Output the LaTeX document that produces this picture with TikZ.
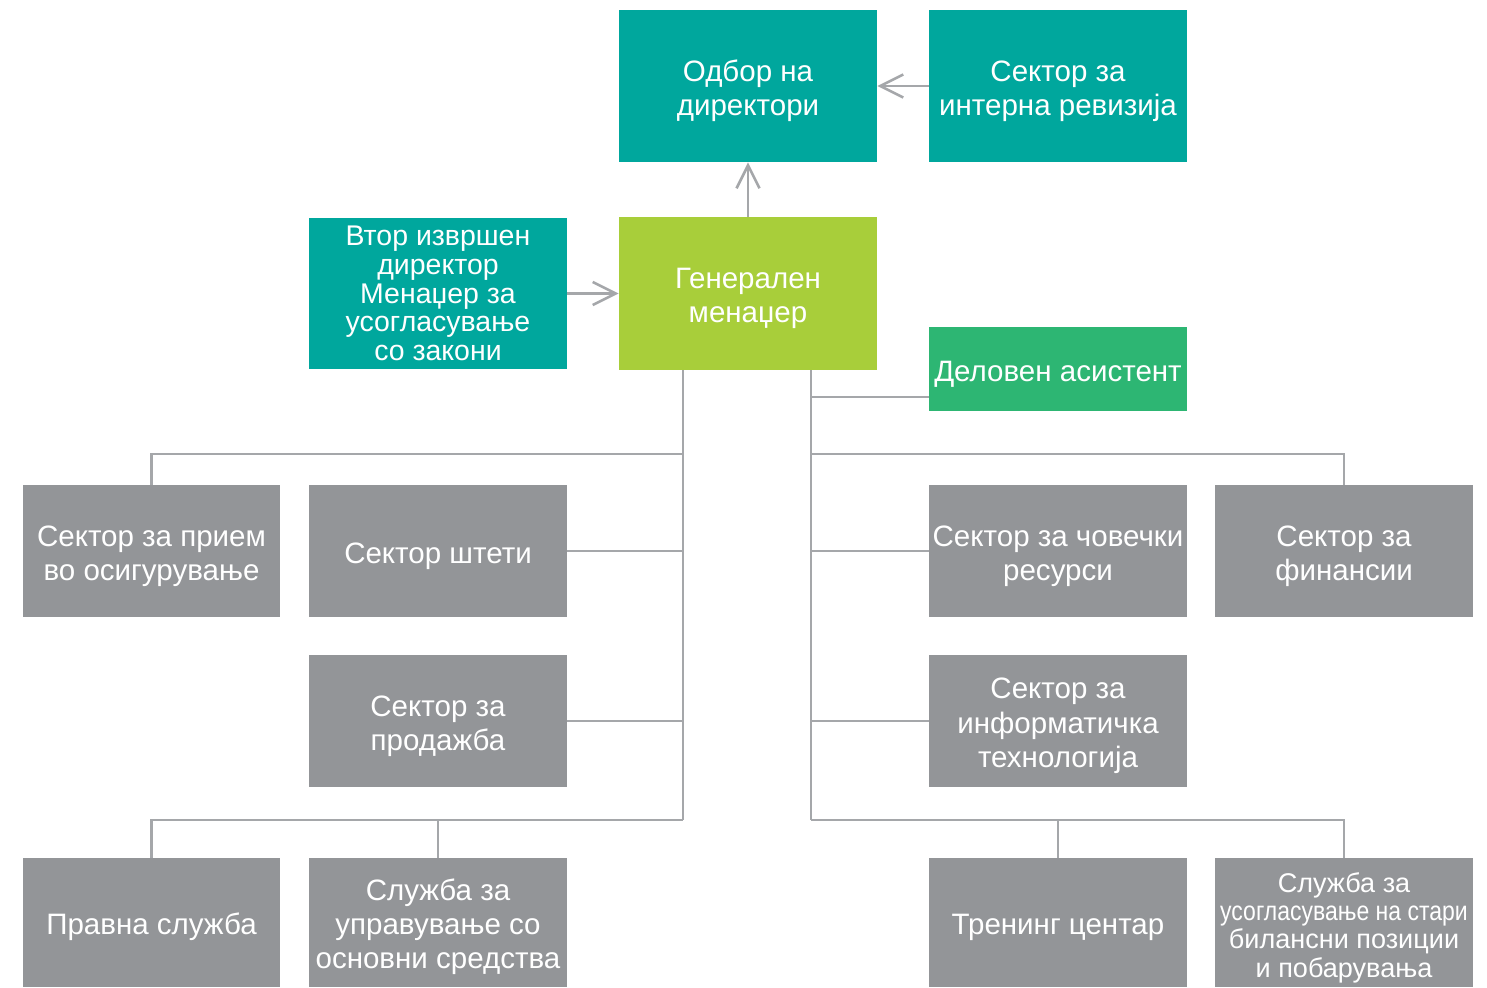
\documentclass[tikz,border=0pt]{standalone}
\usepackage{fontspec}
\setmainfont{Liberation Sans}
\usepackage{graphicx}
\usetikzlibrary{positioning,arrows.meta,calc}
\definecolor{unitteal}{HTML}{00A79D}
\definecolor{unitlime}{HTML}{A8CE3A}
\definecolor{unitgreen}{HTML}{2DB673}
\definecolor{unitgrey}{HTML}{939598}
\definecolor{linkgrey}{HTML}{A5A7AA}
\newcommand{\dropln}{\rule{0pt}{17.2pt}} % drops the text a little
\tikzset{
  unit/.style={rectangle,inner sep=0pt,minimum width=5.16cm,text=white,align=center,
    font=\fontsize{16.8}{19.4}\selectfont},
  tealu/.style={unit,fill=unitteal,minimum height=3.04cm},
  limeu/.style={unit,fill=unitlime,minimum height=3.06cm},
  greenu/.style={unit,fill=unitgreen,minimum height=1.68cm},
  greyu/.style={unit,fill=unitgrey,minimum height=2.64cm},
  lowu/.style={unit,fill=unitgrey,minimum height=2.58cm},
  tight/.style={font=\fontsize{16.2}{16.3}\selectfont},
  tighter/.style={font=\fontsize{15.4}{16.1}\selectfont},
  conn/.style={draw=linkgrey,line width=1.5pt},
  arr/.style={conn,-{Straight Barb[length=0.46cm,width=0.46cm,line width=1.5pt]}},
}
\begin{document}
\begin{tikzpicture}[x=0.02cm,y=-0.02cm]
  \useasboundingbox (0,0) rectangle (1487,987);
  % board and management
  \node[tealu] (odbor) at (748,86) {\dropln Одбор на\\директори};
  \node[tealu] (reviz) at (1058,86) {\dropln Сектор за\\интерна ревизија};
  \node[limeu] (gm) at (748,293.5) {\dropln Генерален\\менаџер};
  \node[tealu,tight] (vtor) at (438,293.5)
    {Втор извршен\\директор\\Менаџер за\\усогласување\\со закони};
  \node[greenu] (asist) at (1058,369) {\dropln Деловен асистент};
  % sectors
  \node[greyu] (priem) at (151.5,551) {\dropln Сектор за прием\\во осигурување};
  \node[greyu] (steti) at (438,551) {\dropln Сектор штети};
  \node[greyu] (prod) at (438,721) {\dropln Сектор за\\продажба};
  \node[greyu] (covek) at (1058,551) {\dropln Сектор за човечки\\ресурси};
  \node[greyu] (finans) at (1344,551) {\dropln Сектор за\\финансии};
  \node[greyu] (info) at (1058,721) {\dropln Сектор за\\информатичка\\технологија};
  \node[lowu] (pravna) at (151.5,922.5) {\dropln Правна служба};
  \node[lowu] (sredst) at (438,922.5) {\dropln Служба за\\управување со\\основни средства};
  \node[lowu] (trening) at (1058,922.5) {\dropln Тренинг центар};
  \node[lowu,tighter] (stari) at (1344,922.5)
    {\dropln Служба за\\\scalebox{0.85}[1]{усогласување на стари}\\билансни позиции\\и побарувања};
  % arrows
  \draw[arr] (gm.north) -- (odbor.south);
  \draw[arr] (reviz.west) -- (odbor.east);
  \draw[arr] (vtor.east) -- (gm.west);
  % left trunk
  \coordinate (lt) at (683,820);
  \coordinate (lj) at (683,454);
  \draw[conn] (gm.south -| lt) -- (lt);
  \draw[conn] (priem.north) |- (lj);
  \draw[conn] (steti.east) -- (steti.east -| lt);
  \draw[conn] (prod.east) -- (prod.east -| lt);
  \draw[conn] (pravna.north) |- (lt);
  \draw[conn] (sredst.north) -- (sredst.north |- lt);
  % right trunk
  \coordinate (rt) at (811,820);
  \coordinate (rj) at (811,454);
  \coordinate (aj) at (811,397);
  \draw[conn] (gm.south -| rt) -- (rt);
  \draw[conn] (aj) -- (aj -| asist.west);
  \draw[conn] (finans.north) |- (rj);
  \draw[conn] (covek.west) -- (covek.west -| rt);
  \draw[conn] (info.west) -- (info.west -| rt);
  \draw[conn] (stari.north) |- (rt);
  \draw[conn] (trening.north) -- (trening.north |- rt);
\end{tikzpicture}
\end{document}
